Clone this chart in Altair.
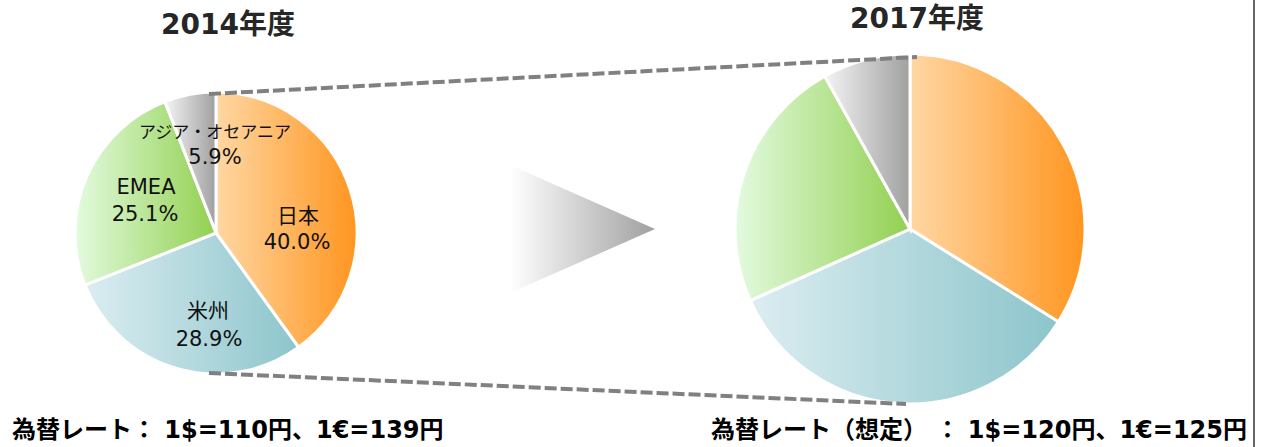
import altair as alt
import pandas as pd

# ---- data ----
regions = ["日本", "米州", "EMEA", "アジア・オセアニア"]
share_2014 = [40.0, 28.9, 25.1, 5.9]
share_2017 = [33.9, 34.4, 23.6, 8.1]
pct_labels_2014 = ["40.0%", "28.9%", "25.1%", "5.9%"]
years = ["2014年度", "2017年度"]
fx_notes = ["為替レート： 1$=110円、1€=139円", "為替レート（想定） ： 1$=120円、1€=125円"]

# ---- styles / layout ----
W, H = 1261, 447
FONT = "DejaVu Sans, Noto Sans CJK JP"
grad_colors = {
    "日本": ("#FFD7A3", "#FF951F"),
    "米州": ("#DCEDF1", "#8CC5CB"),
    "EMEA": ("#E3FBE0", "#92D050"),
    "アジア・オセアニア": ("#F4F4F4", "#A0A0A0"),
}
pies = {"2014年度": dict(cx=216, cy=233, r=141), "2017年度": dict(cx=910, cy=229, r=175)}
label_pos = {  # (name x, name y, value x, value y)
    "日本": (298, 217, 297, 243),
    "米州": (208, 312, 209, 340),
    "EMEA": (146, 188, 145, 215),
    "アジア・オセアニア": (215, 133, 215, 158),
}


def gradient(c0, c1):
    return {
        "gradient": "linear", "x1": 0, "x2": 1, "y1": 0, "y2": 0,
        "stops": [{"offset": 0, "color": c0}, {"offset": 1, "color": c1}],
    }


rows = []
for year, shares in zip(years, [share_2014, share_2017]):
    total = sum(shares)
    acc = 0.0
    for i, (reg, v) in enumerate(zip(regions, shares)):
        rows.append(dict(year=year, region=reg, value=v,
                         start=acc / total, end=(acc + v) / total,
                         pct=pct_labels_2014[i] if year == years[0] else ""))
        acc += v
df = pd.DataFrame(rows)

theta_scale = alt.Scale(domain=[0, 1], range=[0, 6.283185307179586])
layers = []

# pie slices
for year in years:
    p = pies[year]
    for reg in regions:
        c0, c1 = grad_colors[reg]
        layers.append(
            alt.Chart(df)
            .transform_filter((alt.datum.year == year) & (alt.datum.region == reg))
            .mark_arc(outerRadius=p["r"], fill=gradient(c0, c1), stroke="white", strokeWidth=3)
            .encode(
                theta=alt.Theta("start:Q", scale=theta_scale),
                theta2="end:Q",
                x=alt.value(p["cx"]),
                y=alt.value(p["cy"]),
            )
        )

# dashed connector lines
one = pd.DataFrame({"k": [0]})
for (x1, y1, x2, y2) in [(209, 94, 917, 57), (209, 373, 906, 404)]:
    layers.append(
        alt.Chart(one).mark_rule(color="#808080", strokeWidth=4, strokeDash=[12, 4])
        .encode(x=alt.value(x1), y=alt.value(y1), x2=alt.value(x2), y2=alt.value(y2))
    )

# gradient arrow triangle
layers.append(
    alt.Chart(one).mark_point(
        shape="M-1,-0.883L1,0L-1,0.883Z", size=145 * 145, filled=True, opacity=1,
        fill=gradient("#FFFFFF", "#A0A0A0"), strokeWidth=0,
    ).encode(x=alt.value(582.5), y=alt.value(229))
)

# right border line
layers.append(
    alt.Chart(one).mark_rule(color="#333333", strokeWidth=1.5)
    .encode(x=alt.value(1254), y=alt.value(0), y2=alt.value(H))
)

# labels in 2014 pie
for reg in regions:
    nx, ny, vx, vy = label_pos[reg]
    nsize = 17 if reg == "アジア・オセアニア" else 21
    base = alt.Chart(df).transform_filter((alt.datum.year == years[0]) & (alt.datum.region == reg))
    layers.append(
        base.mark_text(font=FONT, fontSize=nsize, color="#111111", baseline="middle", align="center")
        .encode(text="region:N", x=alt.value(nx), y=alt.value(ny))
    )
    layers.append(
        base.mark_text(font=FONT, fontSize=21, color="#111111", baseline="middle", align="center")
        .encode(text="pct:N", x=alt.value(vx), y=alt.value(vy))
    )

# titles
title_df = pd.DataFrame({"t": years})
for t, (tx, ty) in zip(years, [(228, 26), (917, 20)]):
    layers.append(
        alt.Chart(title_df).transform_filter(alt.datum.t == t)
        .mark_text(font=FONT, fontSize=28, fontWeight="bold", color="#262626", baseline="middle", align="center")
        .encode(text="t:N", x=alt.value(tx), y=alt.value(ty))
    )

# exchange-rate notes
note_df = pd.DataFrame({"n": fx_notes})
for n, (nx, ny, al) in zip(fx_notes, [(12, 431, "left"), (1247, 431, "right")]):
    layers.append(
        alt.Chart(note_df).transform_filter(alt.datum.n == n)
        .mark_text(font=FONT, fontSize=24, fontWeight="bold", color="#000000", baseline="middle", align=al)
        .encode(text="n:N", x=alt.value(nx), y=alt.value(ny))
    )

chart = (
    alt.layer(*layers)
    .properties(width=W, height=H, padding=0, autosize=alt.AutoSizeParams(type="none"), background="white")
    .configure_view(strokeWidth=0)
)

chart.save("out.html", embed_options={"renderer": "svg", "actions": False})
